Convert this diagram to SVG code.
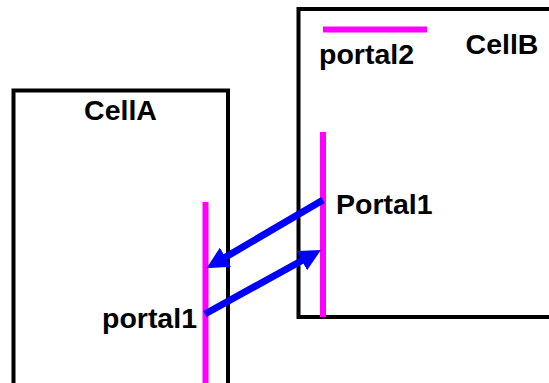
<svg xmlns="http://www.w3.org/2000/svg" width="549" height="383" viewBox="0 0 549 383">
<style>
.cell{fill:none;stroke:#000;stroke-width:4}
.portal{stroke:#FF00FF;stroke-width:6;fill:none}
.lbl{font-family:"Liberation Sans",Arial,sans-serif;font-weight:bold;font-size:28.5px;fill:#000}
.arrow{stroke:#0000FF;stroke-width:7;fill:none}
</style>
<defs>
<marker id="ah" viewBox="0 0 22 22" refX="7" refY="11" markerWidth="22" markerHeight="22" markerUnits="userSpaceOnUse" orient="auto">
<path d="M0,0 L22,11 L0,22 z" fill="#0000FF"/>
</marker>
</defs>
<rect width="549" height="383" fill="#fff"/>
<g id="cellA">
<path class="cell" d="M13.5,390 V90.5 H228 V390"/>
<text class="lbl" x="120.5" y="119.5" text-anchor="middle">CellA</text>
</g>
<g id="cellB">
<path class="cell" d="M560,9 H298.5 V317 H560"/>
<text class="lbl" x="502" y="53.5" text-anchor="middle">CellB</text>
</g>
<g id="portal1A">
<line class="portal" x1="205.5" y1="202" x2="205.5" y2="390"/>
<text class="lbl" x="197" y="327.5" text-anchor="end">portal1</text>
</g>
<g id="portal1B">
<line class="portal" x1="323" y1="132" x2="323" y2="317"/>
<text class="lbl" x="336" y="214">Portal1</text>
</g>
<g id="portal2">
<line class="portal" x1="323" y1="29.5" x2="427" y2="29.5"/>
<text class="lbl" x="319" y="63.5">portal2</text>
</g>
<g id="connectors">
<line class="arrow" x1="323" y1="200" x2="219.4" y2="260.7" marker-end="url(#ah)"/>
<line class="arrow" x1="205" y1="314" x2="307.9" y2="257.2" marker-end="url(#ah)"/>
</g>
</svg>
